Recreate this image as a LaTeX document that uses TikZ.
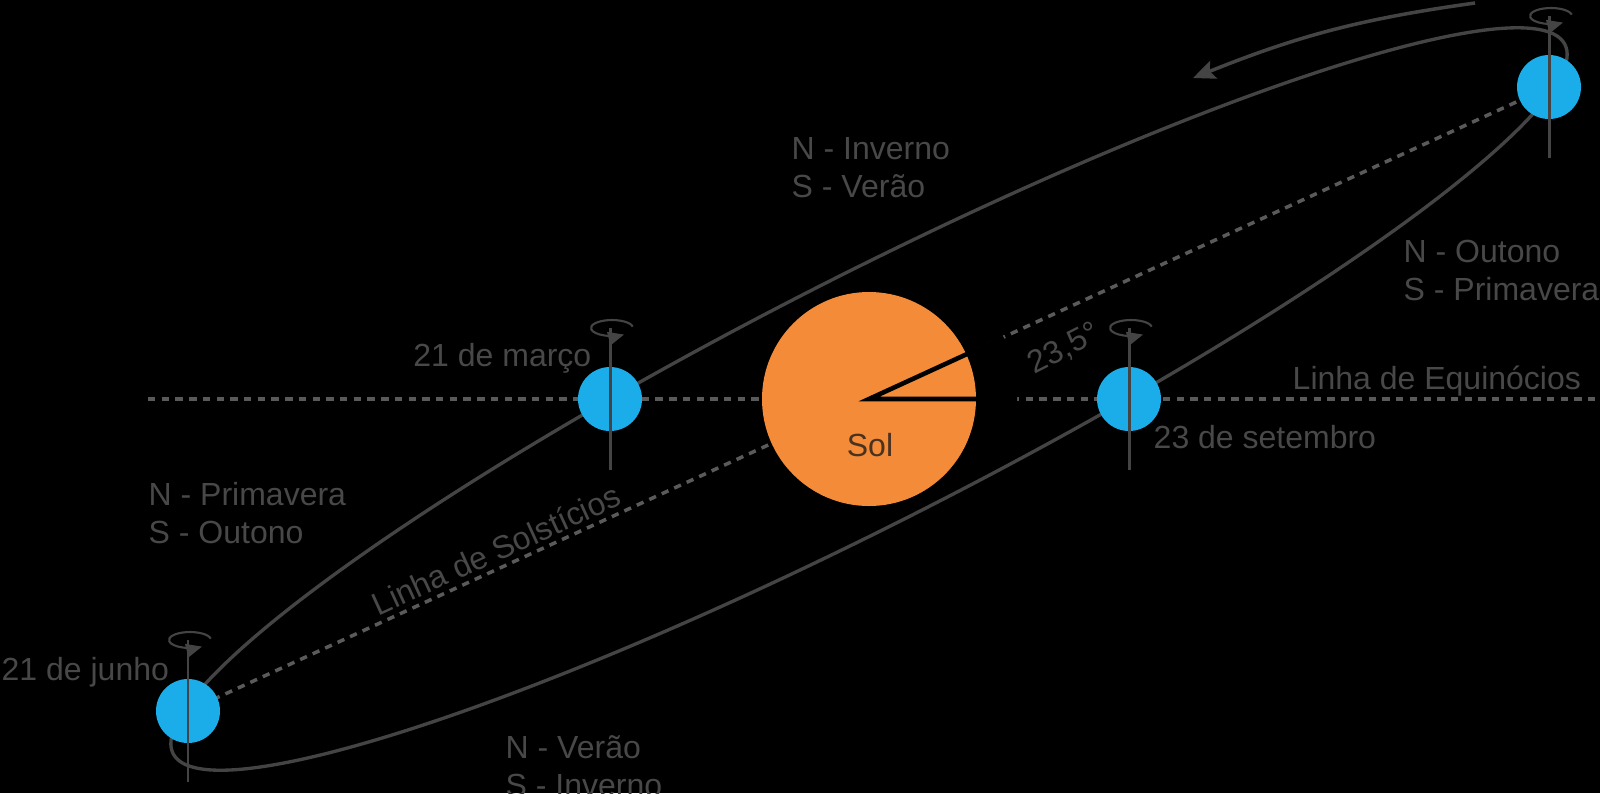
\documentclass[tikz,border=0pt]{standalone}
\usepackage{fontspec}
\setmainfont{Liberation Sans}
\usetikzlibrary{calc,arrows.meta}
\definecolor{terra}{HTML}{1BADEA}
\definecolor{solar}{HTML}{F38B38}
\definecolor{traco}{HTML}{444444}
\definecolor{texto}{HTML}{484848}
\definecolor{pontos}{HTML}{5A5A5A}
\definecolor{soltexto}{HTML}{4A3220}
\tikzset{
  orbita/.style={traco, line width=.95pt},
  pontilhado/.style={pontos, line width=1pt, dash pattern=on 2.1pt off 1.8pt},
  rotulo/.style={text=texto, inner sep=0pt, font=\fontsize{9.1}{10.8}\selectfont, align=left}
}
\def\drawEarth{
\fill[terra] (0,0) circle (32);
\draw[traco, line width=.85pt] (0,-71) -- (0,71);
\draw[traco, line width=.6pt, -{Triangle[length=4.5pt,width=3.8pt]}]
  (2,71) ++(10:21 and 8) arc (10:305:21 and 8);
}

\begin{document}
\begin{tikzpicture}[x=0.01cm, y=0.01cm]
  \fill[black] (0,0) rectangle (1600,-793);
  \useasboundingbox (0,0) rectangle (1600,-793);
  \coordinate (Sol) at (869,-399);
  \coordinate (Mar) at (610,-399);
  \coordinate (Set) at (1129,-399);
  \coordinate (Jun) at (188,-711);
  \coordinate (Dez) at (1549,-87);
  \coordinate (EqO) at (148,-399);
  \coordinate (EqL) at (1600,-399);
  \coordinate (SetaA) at (1475,-3);
  \coordinate (SetaB) at (1193,-78);
  \draw[orbita, rotate around={27:(Sol)}] (Sol) ellipse (781 and 123);
  \draw[pontilhado] (EqO) -- (EqL);
  \draw[pontilhado] (Jun) -- node[pos=.232, sloped, above=1.3pt, rotulo] (solsticios) {Linha de Solstícios} (Dez);
  \fill[solar] (Sol) circle (107);
  \draw[black, line width=1.3pt] ($(Sol)+(148,0)$) -- (Sol) -- ($(Sol)!1.48cm!(Dez)$);
\begin{scope}[shift={(Mar)}]
  \drawEarth
\end{scope}
\begin{scope}[shift={(Set)}]
  \drawEarth
\end{scope}
\begin{scope}[shift={(Jun)}]
  \drawEarth
\end{scope}
\begin{scope}[shift={(Dez)}]
  \drawEarth
\end{scope}
  \draw[orbita, line width=1pt, -{Stealth[length=6.3pt,width=5.4pt,inset=1.2pt]}] (SetaA) to[bend right=7] (SetaB);
  \node[rotulo, anchor=base east] (marco) at (592,-366) {21 de março};
  \node[rotulo, anchor=base west] (junho) at (1,-680) {21 de junho};
  \node[rotulo, anchor=base west] (setembro) at (1153,-448) {23 de setembro};
  \node[rotulo, anchor=base west] (equinocios) at (1292,-389) {Linha de Equinócios};
  \node[rotulo, text=soltexto] (sol) at (870,-445) {Sol};
  \node[rotulo, rotate=27] (angulo) at (1064,-349) {23,5°};
  \node[rotulo, anchor=north west] (inverno) at (791,-137) {N - Inverno\\S - Verão};
  \node[rotulo, anchor=north west] (outono) at (1403,-239) {N - Outono\\S - Primavera};
  \node[rotulo, anchor=north west] (primavera) at (148,-482) {N - Primavera\\S - Outono};
  \node[rotulo, anchor=north west] (verao) at (505,-735) {N - Verão\\S - Inverno};
\end{tikzpicture}
\end{document}
